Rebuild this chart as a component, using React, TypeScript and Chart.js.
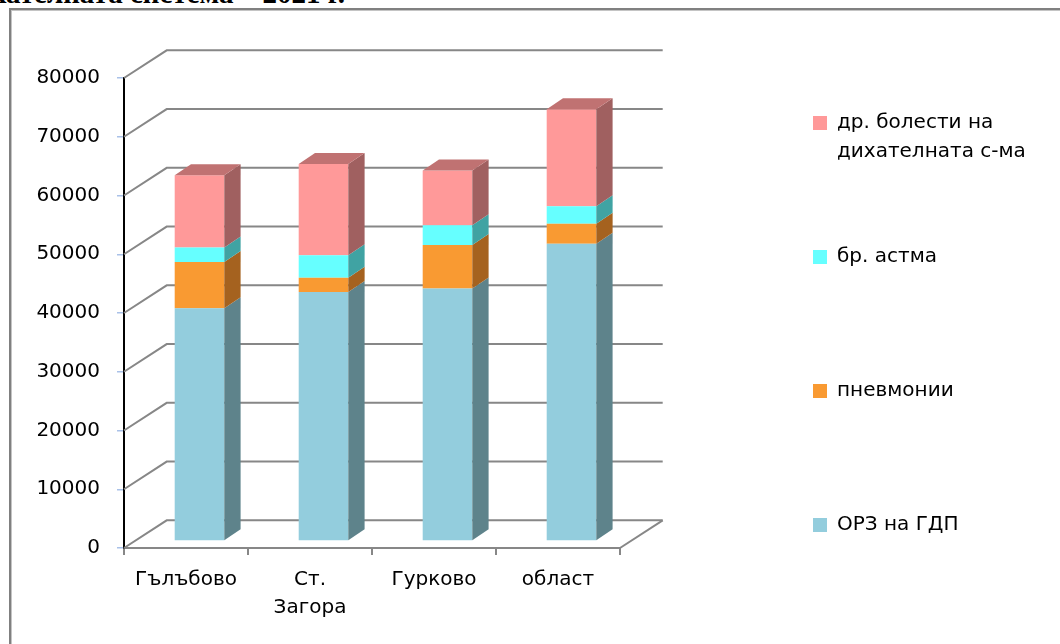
import React, { useEffect, useRef } from 'react';
import { Chart, registerables } from 'chart.js';

Chart.register(...registerables);

// ---------- data ----------
const categories: (string | string[])[] = ['Гълъбово', ['Ст.', 'Загора'], 'Гурково', 'област'];
const orzValues = [39600, 42400, 43000, 50600];
const pneumoniaValues = [7900, 2400, 7400, 3400];
const asthmaValues = [2450, 3850, 3350, 3000];
const otherValues = [12300, 15500, 9300, 16500];
const seriesNames = ['ОРЗ на ГДП', 'пневмонии', 'бр. астма', 'др. болести на дихателната с-ма'];
const legendLines: string[][] = [['ОРЗ на ГДП'], ['пневмонии'], ['бр. астма'], ['др. болести на', 'дихателната с-ма']];
const yMin = 0;
const yMax = 80000;
const yStep = 10000;
const titleText = 'дихателната система – 2021 г.';

// ---------- styles ----------
const frontColors = ['#93CDDD', '#F99A32', '#66FFFF', '#FF9999'];
const sideColors = ['#5E838B', '#A5621F', '#40A3A3', '#A06060'];
const topColor = '#C07272';
const wallColor = '#878787';
const FONT = 'DejaVu Sans';
const WALL = { dx: 42.7, dy: -27.7 };
const BAR_SHIFT = { dx: 13.5, dy: -7 };
const BAR_DEPTH = { dx: 16.3, dy: -11 };
const LEGEND_POS = { left: 795, top: 95 };
const LEGEND_LINES_PER_ITEM = 4;

const threeD = {
  id: 'threeD',
  afterLayout(chart: any) {
    const lg = chart.legend;
    if (lg) {
      lg.left = LEGEND_POS.left;
      lg.right = chart.width;
      lg.width = lg.right - lg.left;
      lg.top = LEGEND_POS.top;
      lg.bottom = chart.height;
      lg.height = lg.bottom - lg.top;
    }
  },
  beforeDatasetsDraw(chart: any) {
    const { ctx, chartArea, scales } = chart;
    const { left, right, bottom } = chartArea;
    const y = scales.y;
    ctx.save();
    ctx.strokeStyle = wallColor;
    ctx.lineWidth = 2;
    y.ticks.forEach((t: any) => {
      const py = y.getPixelForValue(t.value);
      ctx.beginPath();
      ctx.moveTo(left, py);
      ctx.lineTo(left + WALL.dx, py + WALL.dy);
      ctx.lineTo(right + WALL.dx, py + WALL.dy);
      ctx.stroke();
    });
    ctx.beginPath();
    ctx.moveTo(right, bottom);
    ctx.lineTo(right + WALL.dx, bottom + WALL.dy);
    ctx.stroke();
    ctx.restore();
    ctx.save();
    ctx.translate(BAR_SHIFT.dx, BAR_SHIFT.dy);
  },
  afterDatasetsDraw(chart: any) {
    const { ctx } = chart;
    const n = chart.data.datasets.length;
    for (let d = 0; d < n; d++) {
      const meta = chart.getDatasetMeta(d);
      meta.data.forEach((el: any) => {
        const { x, y, base, width } = el.getProps(['x', 'y', 'base', 'width'], true);
        const xr = x + width / 2;
        const xl = x - width / 2;
        ctx.fillStyle = sideColors[d];
        ctx.beginPath();
        ctx.moveTo(xr, y);
        ctx.lineTo(xr + BAR_DEPTH.dx, y + BAR_DEPTH.dy);
        ctx.lineTo(xr + BAR_DEPTH.dx, base + BAR_DEPTH.dy);
        ctx.lineTo(xr, base);
        ctx.closePath();
        ctx.fill();
        if (d === n - 1) {
          ctx.fillStyle = topColor;
          ctx.beginPath();
          ctx.moveTo(xl, y);
          ctx.lineTo(xl + BAR_DEPTH.dx, y + BAR_DEPTH.dy);
          ctx.lineTo(xr + BAR_DEPTH.dx, y + BAR_DEPTH.dy);
          ctx.lineTo(xr, y);
          ctx.closePath();
          ctx.fill();
        }
      });
    }
    ctx.restore();
  },
};

export default function App() {
  const ref = useRef<HTMLCanvasElement | null>(null);
  useEffect(() => {
    if (!ref.current) return;
    const seriesValues = [orzValues, pneumoniaValues, asthmaValues, otherValues];
    const chart = new Chart(ref.current, {
      type: 'bar',
      data: {
        labels: categories as any,
        datasets: seriesValues.map((vals, i) => ({
          label: seriesNames[i],
          data: vals,
          backgroundColor: frontColors[i],
          borderWidth: 0,
          categoryPercentage: 1,
          barPercentage: 0.4,
          clip: false as any,
        })),
      },
      options: {
        responsive: false,
        animation: false,
        devicePixelRatio: 1,
        layout: { padding: { top: 78, left: 0, right: 240, bottom: 0 } },
        plugins: {
          tooltip: { enabled: false },
          title: { display: false },
          legend: {
            display: true,
            position: 'right',
            align: 'start',
            reverse: true,
            maxWidth: 200,
            labels: {
              boxWidth: 14,
              boxHeight: 14,
              padding: 18,
              color: '#000',
              font: { family: FONT, size: 20, lineHeight: 1.45 },
              generateLabels: (c: any) =>
                (Chart.defaults.plugins.legend.labels.generateLabels as any)(c).map((item: any) => {
                  const lines = legendLines[item.datasetIndex].slice();
                  while (lines.length < LEGEND_LINES_PER_ITEM) lines.push('');
                  return { ...item, text: lines, lineWidth: 0 };
                }),
            },
          },
        },
        scales: {
          x: {
            stacked: true,
            offset: true,
            grid: {
              display: true,
              drawOnChartArea: false,
              drawTicks: true,
              tickLength: 7,
              color: wallColor,
              lineWidth: 2,
              offset: true,
            },
            border: { display: true, color: wallColor, width: 2 },
            ticks: {
              color: '#000',
              padding: 11,
              maxRotation: 0,
              autoSkip: false,
              font: { family: FONT, size: 20, lineHeight: 1.4 },
            },
            afterFit: (s: any) => {
              s.height = 96;
            },
          },
          y: {
            stacked: true,
            min: yMin,
            max: yMax,
            grid: {
              display: true,
              drawOnChartArea: false,
              drawTicks: true,
              tickLength: 7,
              color: '#A9C1E8',
              lineWidth: 1.5,
            },
            border: { display: true, color: '#000', width: 2 },
            ticks: {
              stepSize: yStep,
              color: '#000',
              padding: 17,
              font: { family: FONT, size: 20 },
              callback: (v: any) => String(v),
            },
            afterFit: (s: any) => {
              s.width = 124;
            },
          },
        },
      },
      plugins: [threeD],
    });
    return () => chart.destroy();
  }, []);

  return (
    <div style={{ position: 'fixed', left: 0, top: 0, width: 1060, height: 644, overflow: 'hidden', background: '#fff' }}>
      <div
        style={{
          position: 'absolute',
          right: 1060 - 345,
          top: -17,
          fontFamily: '"Liberation Serif", serif',
          fontWeight: 'bold',
          fontSize: 29,
          lineHeight: '20px',
          whiteSpace: 'nowrap',
          color: '#000',
        }}
      >
        {titleText}
      </div>
      <div
        style={{
          position: 'absolute',
          left: 9,
          top: 8,
          width: 1100,
          height: 700,
          borderLeft: '2px solid #808080',
          borderTop: '2px solid #808080',
          boxShadow: 'inset 1px 1px 0 #c4c4c4',
        }}
      />
      <canvas ref={ref} width={1060} height={644} style={{ position: 'absolute', left: 0, top: 0, width: 1060, height: 644 }} />
    </div>
  );
}
